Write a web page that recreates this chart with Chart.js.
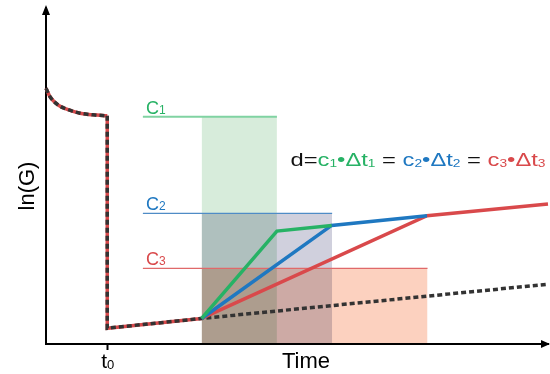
<!DOCTYPE html>
<html>
<head>
<meta charset="utf-8">
<script src="https://cdn.jsdelivr.net/npm/chart.js@4/dist/chart.umd.min.js"></script>
<style>
  html, body { margin: 0; padding: 0; background: #fff; }
  #wrap { width: 550px; height: 374px; }
</style>
</head>
<body>
<div id="wrap"><canvas id="chart"></canvas></div>
<script>
// ---- data (time and ln(G) in arbitrary units, axes run 0..100) ----
const t0 = 12.2;

// relaxation before t0
const relaxT = [0, 0.8, 2.45, 4.12, 6.77, 9.36, 12.2];
const relaxG = [76.1, 73.6, 71.1, 69.9, 68.7, 68.2, 67.9];

// drop at t0 and slow regrowth up to the start of dosing
const dropT = [12.2, 12.2, 31.0];
const dropG = [67.9, 4.7, 7.6];

// untreated baseline continuing after dosing starts
const baseT = [31.0, 100];
const baseG = [7.6, 17.8];

// responses for the three dose schedules
const greenT = [31.0, 46.0, 56.9];
const greenG = [7.6, 33.6, 35.3];
const blueT = [31.0, 56.9, 75.9];
const blueG = [7.6, 35.3, 38.2];
const redT = [31.0, 75.9, 100];
const redG = [7.6, 38.2, 41.7];

// dose levels c1..c3, each applied from doseStart to doseEnd[i]
const doseStart = 31.0;
const doseEnd = [46.0, 57.0, 76.0];
const doseLevel = [67.6, 38.9, 22.5];
const doseLabelT = 19.3;
const doseNames = ['C', 'C', 'C'];
const doseIdx = ['1', '2', '3'];

const xTicks = [t0];
const xTickLabels = [['t', '0']];

// ---- styling ----
const FONT = '"Liberation Sans", Arial, sans-serif';
const GREEN = '#27b265';
const BLUE = '#1f78c1';
const RED = '#d9494b';
const DARK = '#333333';
const doseFill = ['#d7ecdb', '#d0d0dd', '#fcd1bf'];
const doseLine = ['#80d3a2', '#4f8cc6', '#e0696a'];
const doseLineW = [2, 1.2, 1.2];
const doseText = [GREEN, BLUE, RED];

const pts = (ts, gs) => ts.map((t, i) => ({ x: t, y: gs[i] }));

const datasets = [];
const lineDs = (data, color, width, order, extra) => Object.assign({
  type: 'line', data, borderColor: color, borderWidth: width,
  pointRadius: 0, fill: false, tension: 0, order, clip: false
}, extra || {});

datasets.push(lineDs(pts(greenT, greenG), GREEN, 3.5, 1));
datasets.push(lineDs(pts(blueT, blueG), BLUE, 3.5, 2));
datasets.push(lineDs(pts(redT, redG), RED, 3.5, 3));
// dashed black over solid red for the reference history
datasets.push(lineDs(pts(relaxT, relaxG), DARK, 3.5, 4, { borderDash: [5, 3], cubicInterpolationMode: 'monotone' }));
datasets.push(lineDs(pts(dropT, dropG).concat(pts(baseT, baseG).slice(1)), DARK, 3.5, 5, { borderDash: [5, 3] }));
datasets.push(lineDs(pts(relaxT, relaxG), RED, 3.5, 6, { cubicInterpolationMode: 'monotone' }));
datasets.push(lineDs(pts(dropT, dropG), RED, 3.5, 7));
// dose level markers and dose blocks
for (let i = 0; i < 3; i++) {
  datasets.push(lineDs([{ x: doseLabelT, y: doseLevel[i] }, { x: doseEnd[i], y: doseLevel[i] }],
    doseLine[i], doseLineW[i], 8 + i));
}
for (let i = 0; i < 3; i++) {
  datasets.push({
    type: 'line',
    data: [{ x: doseStart, y: 0 }, { x: doseStart, y: doseLevel[i] },
           { x: doseEnd[i], y: doseLevel[i] }, { x: doseEnd[i], y: 0 }],
    borderWidth: 0, borderColor: 'rgba(0,0,0,0)', backgroundColor: doseFill[i],
    pointRadius: 0, fill: 'origin', tension: 0, order: 11 + i
  });
}

// text runs with small subscript digits sitting on the baseline
function richWidth(ctx, runs, mainPx, subPx) {
  let w = 0;
  for (const r of runs) {
    ctx.font = (r.sub ? subPx : mainPx) + 'px ' + FONT;
    w += ctx.measureText(r.t).width;
  }
  return w;
}
function drawRich(ctx, runs, x, y, mainPx, subPx, subDy) {
  for (const r of runs) {
    ctx.font = (r.sub ? subPx : mainPx) + 'px ' + FONT;
    ctx.fillStyle = r.c;
    ctx.fillText(r.t, x, y + (r.sub ? subDy : 0));
    x += ctx.measureText(r.t).width;
  }
  return x;
}

// blocks overlap with multiply blending; arrows and annotations on top
const decor = {
  id: 'decor',
  beforeDraw(chart) { chart.ctx.globalCompositeOperation = 'multiply'; },
  beforeDatasetsDraw(chart) { chart.ctx.globalCompositeOperation = 'source-over'; },
  afterDraw(chart) {
    const ctx = chart.ctx;
    const a = chart.chartArea;
    const xs = chart.scales.x, ys = chart.scales.y;
    ctx.save();
    ctx.globalCompositeOperation = 'source-over';
    ctx.fillStyle = '#000';
    // axis arrowheads
    ctx.beginPath();
    ctx.moveTo(a.left, a.top - 3);
    ctx.lineTo(a.left - 4, a.top + 7);
    ctx.lineTo(a.left + 4, a.top + 7);
    ctx.closePath();
    ctx.fill();
    ctx.beginPath();
    ctx.moveTo(a.right + 2, a.bottom);
    ctx.lineTo(a.right - 7, a.bottom - 4);
    ctx.lineTo(a.right - 7, a.bottom + 4);
    ctx.closePath();
    ctx.fill();

    // axis titles
    ctx.font = '22px ' + FONT;
    ctx.textAlign = 'center';
    ctx.textBaseline = 'alphabetic';
    ctx.fillText('Time', 306, 368);
    ctx.save();
    ctx.translate(34, 186);
    ctx.rotate(-Math.PI / 2);
    ctx.fillText('ln(G)', 0, 0);
    ctx.restore();

    ctx.textAlign = 'left';
    // time tick label
    xTicks.forEach((v, i) => {
      const runs = [{ t: xTickLabels[i][0], c: '#000' }, { t: xTickLabels[i][1], c: '#000', sub: true }];
      const w = richWidth(ctx, runs, 21, 13);
      drawRich(ctx, runs, xs.getPixelForValue(v) - w / 2 + 0.5, 368, 21, 13, 1);
    });

    // dose labels
    for (let i = 0; i < 3; i++) {
      drawRich(ctx, [{ t: doseNames[i], c: doseText[i] }, { t: doseIdx[i], c: doseText[i], sub: true }],
        xs.getPixelForValue(doseLabelT) + 3, ys.getPixelForValue(doseLevel[i]) - 3, 18, 12, 0);
    }

    // equal-dose relation d = c_i * dt_i
    const runs = [{ t: 'd=', c: '#111' }];
    for (let i = 0; i < 3; i++) {
      if (i > 0) runs.push({ t: ' = ', c: '#111' });
      runs.push({ t: 'c', c: doseText[i] }, { t: doseIdx[i], c: doseText[i], sub: true },
                { t: '\u2022\u0394t', c: doseText[i] }, { t: doseIdx[i], c: doseText[i], sub: true });
    }
    const natural = richWidth(ctx, runs, 19, 11);
    const sx = 255 / natural;
    ctx.save();
    ctx.translate(290.5, 166);
    ctx.scale(sx, 1);
    drawRich(ctx, runs, 0, 0, 19, 11, 1);
    ctx.restore();
    ctx.restore();
  }
};

new Chart(document.getElementById('chart'), {
  type: 'line',
  data: { datasets },
  options: {
    responsive: true,
    maintainAspectRatio: false,
    animation: false,
    events: [],
    layout: { padding: { top: 8, right: 2, left: 0, bottom: 0 } },
    plugins: {
      legend: { display: false },
      tooltip: { enabled: false },
      filler: { drawTime: 'beforeDatasetsDraw' }
    },
    scales: {
      x: {
        type: 'linear', min: 0, max: 100,
        afterBuildTicks(s) { s.ticks = xTicks.map(v => ({ value: v })); },
        afterFit(s) { s.height = 30; },
        ticks: { display: false },
        grid: { display: true, drawOnChartArea: false, drawTicks: true, tickLength: 6, tickColor: '#000', tickWidth: 2 },
        border: { display: true, color: '#000', width: 2 }
      },
      y: {
        type: 'linear', min: 0, max: 100,
        afterFit(s) { s.width = 46; },
        ticks: { display: false },
        grid: { display: false },
        border: { display: true, color: '#000', width: 2 }
      }
    }
  },
  plugins: [decor]
});
</script>
</body>
</html>
